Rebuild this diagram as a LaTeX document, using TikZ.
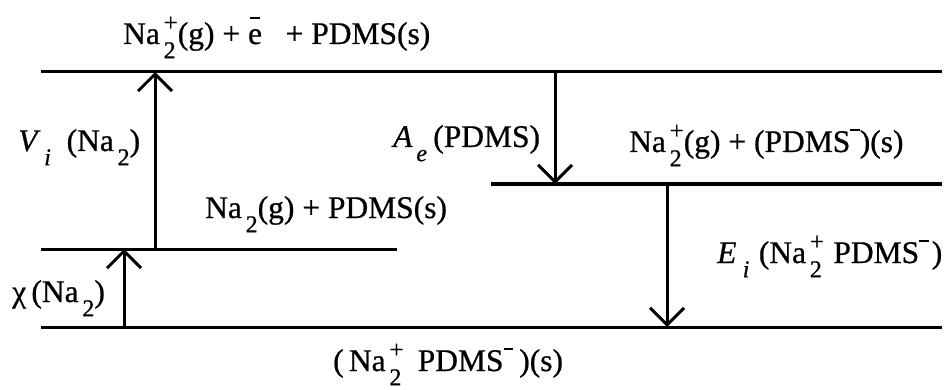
\documentclass[tikz,border=0pt]{standalone}
\usepackage{fontspec}
\setmainfont{Liberation Serif}[FakeBold=0.7]
\usetikzlibrary{arrows.meta}
\newcommand\lo[1]{\hspace{0.12em}\raisebox{-0.45em}{\fontsize{24}{24}\selectfont #1}}
\newcommand\hi[1]{\raisebox{0.42em}{\fontsize{25}{25}\selectfont #1}}
\newcommand\lohi[2]{\hspace{0.12em}\rlap{\raisebox{-0.45em}{\fontsize{24}{24}\selectfont #1}}\hi{#2}}
\newcommand\ebar{e\llap{\raisebox{0.8em}{\rule{0.34em}{0.07em}}\hspace{0.05em}}}
\newcommand\mns{\raisebox{0.66em}{\rule{0.3em}{0.07em}}}
\begin{document}
\begin{tikzpicture}[x=1pt,y=-1pt,
  level/.style={line width=3pt},
  trans/.style={line width=3pt,-{Straight Barb[length=17pt,width=34pt]}},
  lbl/.style={anchor=base west,inner sep=0pt,font=\fontsize{31.5}{36}\selectfont}]
\useasboundingbox (0,0) rectangle (944,390);
% level end points
\coordinate (aL) at (41,72);  \coordinate (aR) at (942,72);
\coordinate (bL) at (491,184); \coordinate (bR) at (942,184);
\coordinate (cL) at (41,249); \coordinate (cR) at (397,249);
\coordinate (dL) at (41,327); \coordinate (dR) at (942,327);
\draw[level] (aL) -- (aR);
\draw[level] (bL) -- (bR);
\draw[level] (cL) -- (cR);
\draw[level] (dL) -- (dR);
% transition end points
\coordinate (viS) at (155,249); \coordinate (viE) at (155,72);
\coordinate (chS) at (124,327); \coordinate (chE) at (124,249);
\coordinate (aeS) at (555,72);  \coordinate (aeE) at (555,184);
\coordinate (eiS) at (667,184); \coordinate (eiE) at (667,327);
\draw[trans] (viS) -- (viE);
\draw[trans] (chS) -- (chE);
\draw[trans] (aeS) -- (aeE);
\draw[trans] (eiS) -- (eiE);
% labels
\node[lbl] (top) at (123,44) {Na\lohi{2}{+}(g) + \ebar{}\hspace{0.75em}+ PDMS(s)};
\node[lbl] (vi) at (18,151) {\textit{V}\lo{\textit{i}}\hspace{0.5em}(Na\lo{2})};
\node[lbl] (ae) at (393,147) {\textit{A}\lo{\textit{e}}\hspace{0.2em}(PDMS)};
\node[lbl] (rm) at (629,152) {Na\lohi{2}{+}(g) + (PDMS\mns)(s)};
\node[lbl] (lm) at (205,218) {Na\lo{2}(g) + PDMS(s)};
\node[lbl] (ch) at (12,302) {χ\,(Na\lo{2})};
\node[lbl] (ei) at (717,263) {\textit{E}\hspace{0.08em}\lo{\textit{i}}\hspace{0.3em}(Na\lohi{2}{+}\hspace{0.3em}PDMS\mns\hspace{0.1em})};
\node[lbl] (bt) at (333,371) {(\,Na\lohi{2}{+}\hspace{0.45em}PDMS\mns\hspace{0.2em})(s)};
\end{tikzpicture}
\end{document}
